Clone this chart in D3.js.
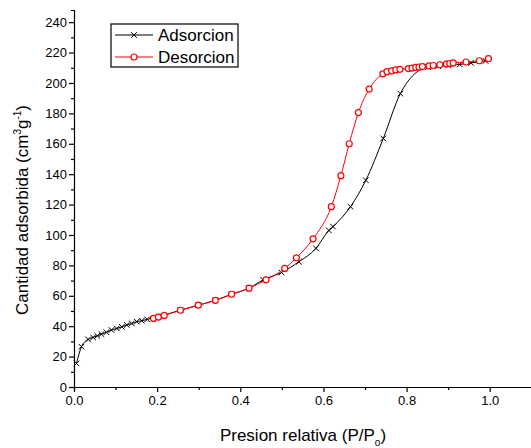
<!DOCTYPE html>
<html>
<head>
<meta charset="utf-8">
<script src="https://cdn.jsdelivr.net/npm/d3@7"></script>
<style>
  body { margin: 0; background: #fff; }
  svg { font-family: "Liberation Sans", Arial, sans-serif; }
</style>
</head>
<body>
<div class="chart"></div>
<script>
(function() {
  // Adsorcion branch (P/Po, cm3/g)
  var adsX = [0.006, 0.018, 0.034, 0.046, 0.056, 0.066, 0.078, 0.090, 0.103, 0.115, 0.127, 0.139, 0.151, 0.163, 0.176,
    0.203, 0.256, 0.299, 0.340, 0.379, 0.421, 0.455, 0.499, 0.541, 0.582, 0.613, 0.623, 0.665, 0.702, 0.744, 0.785,
    0.852, 0.876, 0.90, 0.928, 0.955, 0.99];
  var adsY = [15.5, 26.5, 31.3, 32.6, 33.7, 34.8, 36.0, 37.5, 38.5, 39.6, 40.8, 41.8, 43.0, 43.6, 44.5,
    46.3, 50.5, 53.8, 57.0, 61.0, 65.0, 70.5, 75.3, 82.4, 91.2, 103.0, 105.5, 118.6, 136.0, 163.5, 193.0,
    210.5, 211.0, 211.5, 212.2, 213.2, 214.5];

  // Desorcion branch
  var desX = [0.191, 0.203, 0.217, 0.256, 0.299, 0.340, 0.379, 0.421, 0.462, 0.507, 0.535, 0.575, 0.619, 0.642,
    0.662, 0.684, 0.710, 0.743, 0.753, 0.764, 0.774, 0.784, 0.804, 0.813, 0.822, 0.830, 0.838, 0.854, 0.864,
    0.880, 0.896, 0.904, 0.912, 0.943, 0.975, 0.997];
  var desY = [45.1, 46.0, 47.1, 50.5, 53.8, 57.0, 61.0, 65.0, 70.5, 78.0, 85.0, 97.5, 118.6, 139.0,
    160.0, 180.5, 196.0, 206.0, 207.4, 208.0, 208.6, 209.0, 209.5, 209.8, 210.2, 210.5, 210.8, 211.2, 211.5,
    212.0, 212.5, 212.8, 213.2, 213.8, 214.6, 216.0];

  var xTicks = [0, 0.2, 0.4, 0.6, 0.8, 1.0];
  var yTicks = [0, 20, 40, 60, 80, 100, 120, 140, 160, 180, 200, 220, 240];
  var seriesNames = ["Adsorcion", "Desorcion"];

  var width = 531, height = 448;
  var x = d3.scaleLinear().domain([0, 1.1]).range([74, 531.3]);
  var y = d3.scaleLinear().domain([0, 248]).range([387, 10]);

  var svg = d3.select(".chart").append("svg")
    .attr("width", width)
    .attr("height", height);

  // axes
  var xAxis = svg.append("g").attr("transform", "translate(0," + y(0) + ")");
  xAxis.call(d3.axisBottom(x).tickValues(d3.range(0, 1.11, 0.1)).tickSize(3).tickFormat(""));
  xAxis.call(function(g) {
    g.selectAll(".tick").filter(function(d) { return xTicks.some(function(t) { return Math.abs(t - d) < 1e-6; }); })
      .select("line").attr("y2", 5);
    g.selectAll(".tick").filter(function(d) { return xTicks.some(function(t) { return Math.abs(t - d) < 1e-6; }); })
      .select("text").text(function(d) { return d3.format(".1f")(d); })
      .attr("y", 9).attr("dy", "0.71em");
  });
  xAxis.selectAll("text").style("font-size", "13px").attr("fill", "#000");
  xAxis.selectAll("path, line").attr("stroke", "#000").attr("stroke-width", 1.2);

  var yAxis = svg.append("g").attr("transform", "translate(" + x(0) + ",0)");
  yAxis.call(d3.axisLeft(y).tickValues(d3.range(0, 250, 10)).tickSize(3).tickFormat(""));
  yAxis.selectAll(".tick").filter(function(d) { return yTicks.indexOf(d) >= 0; })
    .select("line").attr("x2", -5);
  yAxis.selectAll(".tick").filter(function(d) { return yTicks.indexOf(d) >= 0; })
    .select("text").text(function(d) { return d; }).attr("x", -7);
  yAxis.selectAll("text").style("font-size", "13px").attr("fill", "#000");
  yAxis.selectAll("path, line").attr("stroke", "#000").attr("stroke-width", 1.2);

  // axis titles
  var xt = svg.append("text")
    .attr("x", 303).attr("y", 441)
    .attr("text-anchor", "middle")
    .style("font-size", "17px");
  xt.append("tspan").text("Presion relativa (P/P");
  xt.append("tspan").text("o").style("font-size", "10px").attr("dy", 5);
  xt.append("tspan").text(")").attr("dy", -5);

  var yt = svg.append("text")
    .attr("transform", "translate(28,210) rotate(-90)")
    .attr("text-anchor", "middle")
    .style("font-size", "17px");
  yt.append("tspan").text("Cantidad adsorbida (cm");
  yt.append("tspan").text("3").style("font-size", "10px").attr("dy", -7);
  yt.append("tspan").text("g").attr("dy", 7);
  yt.append("tspan").text("-1").style("font-size", "10px").attr("dy", -7);
  yt.append("tspan").text(")").attr("dy", 7);

  var ads = adsX.map(function(d, i) { return [d, adsY[i]]; });
  var des = desX.map(function(d, i) { return [d, desY[i]]; });

  var line = d3.line()
    .x(function(d) { return x(d[0]); })
    .y(function(d) { return y(d[1]); })
    .curve(d3.curveMonotoneX);

  function cross(g, cx, cy) {
    var s = 2.8;
    g.append("path")
      .attr("d", "M" + (cx - s) + "," + (cy - s) + "L" + (cx + s) + "," + (cy + s) +
        "M" + (cx - s) + "," + (cy + s) + "L" + (cx + s) + "," + (cy - s))
      .attr("stroke", "#000").attr("stroke-width", 1);
  }

  // adsorcion
  svg.append("path").attr("d", line(ads))
    .attr("fill", "none").attr("stroke", "#000").attr("stroke-width", 1);
  var gA = svg.append("g");
  ads.forEach(function(d) { cross(gA, x(d[0]), y(d[1])); });

  // desorcion
  svg.append("path").attr("d", line(des))
    .attr("fill", "none").attr("stroke", "#ff0000").attr("stroke-width", 1);
  svg.append("g").selectAll("circle").data(des).enter().append("circle")
    .attr("cx", function(d) { return x(d[0]); })
    .attr("cy", function(d) { return y(d[1]); })
    .attr("r", 3)
    .attr("fill", "#fff")
    .attr("stroke", "#ff0000")
    .attr("stroke-width", 1.2);

  // legend
  var lg = svg.append("g");
  lg.append("rect").attr("x", 111).attr("y", 24).attr("width", 127).attr("height", 43)
    .attr("fill", "#fff").attr("stroke", "#000").attr("stroke-width", 1.2);
  var rows = [35, 57];
  seriesNames.forEach(function(name, i) {
    var color = i === 0 ? "#000" : "#ff0000";
    lg.append("line").attr("x1", 115).attr("x2", 153).attr("y1", rows[i]).attr("y2", rows[i])
      .attr("stroke", color).attr("stroke-width", 1);
    if (i === 0) cross(lg, 134, rows[i]);
    else lg.append("circle").attr("cx", 134).attr("cy", rows[i]).attr("r", 3)
      .attr("fill", "#fff").attr("stroke", color).attr("stroke-width", 1.2);
    lg.append("text").attr("x", 158).attr("y", rows[i] + 6)
      .style("font-size", "17px").text(name);
  });
})();
</script>
</body>
</html>
